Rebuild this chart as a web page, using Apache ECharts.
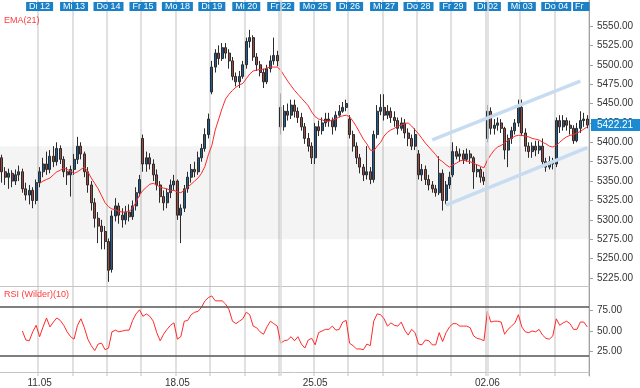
<!DOCTYPE html>
<html><head><meta charset="utf-8">
<script src="https://cdn.jsdelivr.net/npm/echarts@6/dist/echarts.min.js"></script>
<style>html,body{margin:0;padding:0;background:#fff}#c{width:640px;height:388px}</style>
</head><body><div id="c"></div>
<script>
// ---- data ----
const dayLabels = ['Mo 11','Di 12','Mi 13','Do 14','Fr 15','Mo 18','Di 19','Mi 20','Fr 22','Mo 25','Di 26','Mi 27','Do 28','Fr 29','Di 02','Mi 03','Do 04'];
const dayBarCounts = [11,10,10,10,10,10,10,10,10,10,10,10,10,10,10,10,10];
const gapDays = ['Fr 22','Di 02'];
const weekTickDays = ['Di 12','Mo 18','Mo 25','Di 02'];
const weekTickLabels = ['11.05','18.05','25.05','02.06'];

const opens = [
5380,5362,5355,5360,5350,5358,5362,5340,5332,5338,5325,
5348,5362,5372,5365,5382,5375,5392,5378,5362,5358,
5365,5378,5395,5385,5362,5345,5322,5302,5292,5285,
5272,5236,5305,5318,5306,5300,5310,5304,5318,5335,
5405,5372,5380,5372,5358,5345,5330,5322,5335,5345,
5350,5306,5315,5340,5355,5365,5362,5380,5392,5410,
5465,5497,5515,5508,5522,5515,5505,5485,5478,5485,
5500,5530,5535,5510,5500,5490,5478,5495,5505,5512,
5445,5420,5440,5435,5448,5440,5432,5420,5405,5395,
5380,5420,5415,5425,5430,5428,5420,5435,5440,5445,
5430,5410,5395,5380,5368,5358,5362,5352,5410,5440,
5445,5435,5440,5432,5428,5418,5425,5412,5405,5395,
5385,5358,5365,5352,5345,5340,5335,5360,5325,5345,
5358,5388,5382,5385,5378,5385,5380,5362,5365,5355,
5405,5440,5418,5422,5425,5418,5390,5405,5415,5425,
5445,5412,5395,5388,5395,5390,5395,5375,5368,5375,
5372,5428,5420,5428,5422,5418,5402,5418,5428,5430];
const closes = [
5362,5355,5360,5350,5358,5362,5340,5332,5338,5325,5348,
5362,5372,5365,5382,5375,5392,5378,5362,5358,5365,
5378,5395,5385,5362,5345,5322,5302,5292,5285,5272,
5235,5305,5318,5306,5300,5310,5304,5318,5335,5352,
5372,5380,5372,5358,5345,5330,5322,5335,5345,5350,
5306,5315,5340,5355,5365,5362,5380,5392,5410,5430,
5497,5515,5508,5522,5515,5505,5485,5478,5485,5500,
5530,5535,5510,5500,5490,5478,5495,5505,5512,5505,
5420,5440,5435,5448,5440,5432,5420,5405,5395,5380,
5420,5415,5425,5430,5428,5420,5435,5440,5445,5450,
5410,5395,5380,5368,5358,5362,5352,5410,5440,5445,
5435,5440,5432,5428,5418,5425,5412,5405,5395,5410,
5358,5365,5352,5345,5340,5335,5360,5325,5345,5355,
5388,5382,5385,5378,5385,5380,5362,5365,5355,5350,
5440,5418,5422,5425,5418,5390,5405,5415,5425,5445,
5412,5395,5388,5395,5390,5395,5375,5368,5375,5372,
5428,5420,5428,5422,5418,5402,5418,5428,5430,5422.21];
const lows = [
5348,5345,5340,5342,5345,5350,5335,5325,5320,5315,5320,
5342,5355,5358,5360,5368,5370,5372,5355,5345,5330,
5358,5372,5378,5355,5335,5312,5290,5270,5262,5262,
5220,5232,5298,5295,5290,5294,5298,5300,5312,5330,
5362,5362,5365,5350,5338,5322,5312,5315,5328,5338,
5300,5270,5310,5335,5348,5355,5358,5375,5388,5405,
5462,5490,5500,5505,5508,5495,5480,5472,5470,5482,
5495,5522,5505,5492,5485,5470,5475,5490,5500,5498,
5410,5415,5428,5430,5432,5425,5415,5398,5388,5372,
5372,5408,5410,5420,5420,5410,5415,5432,5438,5440,
5405,5388,5372,5360,5350,5352,5346,5348,5405,5435,
5428,5430,5425,5420,5410,5415,5405,5395,5390,5390,
5352,5350,5345,5338,5335,5330,5332,5312,5320,5340,
5355,5378,5375,5372,5375,5372,5340,5355,5348,5345,
5400,5410,5410,5415,5412,5378,5368,5398,5410,5420,
5408,5388,5380,5380,5382,5385,5370,5362,5365,5365,
5368,5412,5415,5415,5410,5398,5400,5412,5420,5418];
const highs = [
5384,5368,5366,5364,5365,5370,5366,5348,5345,5342,5352,
5368,5380,5388,5390,5395,5400,5396,5382,5368,5370,
5385,5407,5400,5388,5368,5350,5328,5310,5300,5292,
5276,5312,5328,5322,5315,5318,5320,5325,5342,5358,
5410,5388,5386,5378,5365,5350,5338,5340,5352,5358,
5352,5320,5345,5362,5372,5375,5388,5398,5418,5437,
5505,5520,5525,5528,5528,5520,5510,5490,5492,5505,
5535,5545,5538,5515,5505,5495,5500,5512,5535,5518,
5463,5448,5450,5455,5455,5445,5438,5425,5412,5400,
5425,5428,5432,5438,5438,5432,5440,5448,5452,5455,
5435,5415,5400,5385,5372,5395,5368,5415,5448,5462,
5462,5448,5445,5440,5432,5432,5430,5418,5410,5418,
5390,5372,5370,5358,5350,5345,5382,5365,5350,5362,
5400,5395,5392,5390,5392,5390,5382,5372,5368,5362,
5448,5445,5430,5432,5430,5420,5410,5420,5430,5455,
5455,5418,5400,5400,5402,5402,5405,5380,5382,5380,
5432,5435,5435,5432,5428,5422,5425,5440,5438,5435];
const ema21 = [
null,null,null,null,null,null,null,null,null,null,null,
5347,5350,5352,5354,5358,5362,5364,5367,5365,5363,
5360,5362,5365,5368,5362,5354,5347,5340,5331,5322,
5317,5314,5313,5311,5310,5310,5311,5315,5323,5332,
5338,5342,5346,5347,5345,5342,5341,5340,5338,5338,
5336,5335,5338,5342,5346,5350,5354,5360,5369,5384,
5396,5416,5430,5444,5456,5462,5467,5471,5474,5476,
5482,5488,5492,5493,5494,5494,5496,5497,5497,5497,
5493,5486,5479,5473,5467,5462,5457,5452,5447,5439,
5433,5430,5429,5427,5427,5429,5430,5433,5434,5435,
5433,5427,5420,5412,5404,5398,5390,5389,5395,5400,
5408,5413,5416,5418,5421,5422,5424,5425,5421,5416,
5411,5405,5399,5394,5389,5384,5378,5375,5371,5368,
5371,5373,5376,5377,5376,5375,5373,5371,5369,5367,
5377,5384,5390,5394,5396,5399,5403,5405,5408,5409,
5409,5408,5407,5405,5404,5403,5400,5398,5395,5394,
5396,5400,5404,5407,5409,5410,5412,5414,5417,5420];
const rsi10 = [
null,null,null,null,null,null,50,39,38,49,57,
43,55,66,55,61,66,63,57,49,43,
40,57,65,54,40,32,26,34,35,27,
29,49,51,49,50,51,51,63,71,76,
68,71,68,62,48,38,46,52,57,60,
40,43,62,63,70,73,74,79,87,91,
93,87,87,87,83,76,62,59,62,65,
73,70,56,54,49,46,55,62,59,56,
35,38,39,43,38,43,34,29,39,41,
33,48,50,52,52,56,51,52,61,63,
35,32,28,28,27,34,32,62,71,70,
65,56,60,57,56,61,51,45,52,48,
34,33,39,38,33,33,48,37,48,55,
59,59,56,56,56,54,44,41,40,38,
74,61,62,62,61,46,52,56,60,70,
55,49,48,50,49,52,45,41,40,44,
65,57,60,62,59,52,52,61,61,55];

const priceTicks = [5225,5250,5275,5300,5325,5350,5375,5400,5425,5450,5475,5500,5525,5550];
const rsiTicks = [25,50,75];
const rsiBands = [20,80];
const rangeBand = [5275,5395];
const channelUpper = [[125,5403],[168,5479]];
const channelLower = [[129,5319],[170,5393]];
const lastPrice = 5422.21;

// ---- build ----
const cats = [];
const dayStart = new Set();
const weekStart = {};
const gapIdx = [];
dayLabels.forEach((d, di) => {
  for (let k = 0; k < dayBarCounts[di]; k++) {
    if (k === 0 && cats.length > 0) dayStart.add(cats.length);
    if (k === 0) {
      const w = weekTickDays.indexOf(d);
      if (w >= 0) weekStart[cats.length] = weekTickLabels[w];
      if (gapDays.indexOf(d) >= 0) gapIdx.push(cats.length);
    }
    cats.push(d + '|' + k);
  }
});
const candles = opens.map((o, i) => [o, closes[i], lows[i], highs[i]]);

const FONT = 'Liberation Sans, Arial, sans-serif';
const BLUE = '#1b80c6';
const splitCol = '#d6d6d6';
const gapLine = (xi, yi) => ({
  type: 'line', xAxisIndex: xi, yAxisIndex: yi, data: [], z: 1, silent: true,
  markLine: {silent: true, symbol: ['none', 'none'], label: {show: false},
    lineStyle: {color: '#dadada', width: 1.5, type: 'solid'},
    data: gapIdx.map(i => ({xAxis: i}))}
});

const chart = echarts.init(document.getElementById('c'), null, {renderer: 'canvas'});
chart.setOption({
  animation: false,
  backgroundColor: '#fff',
  textStyle: {fontFamily: FONT},
  legend: [
    {data: ['EMA(21)'], left: -1, top: 16, padding: 0, itemWidth: 0, itemHeight: 10, icon: 'none', selectedMode: false,
     textStyle: {color: '#ff3b3b', fontSize: 9, fontFamily: FONT}},
    {data: ['RSI (Wilder)(10)'], left: -1, top: 290, padding: 0, itemWidth: 0, itemHeight: 10, icon: 'none', selectedMode: false,
     textStyle: {color: '#ff3b3b', fontSize: 9, fontFamily: FONT}}
  ],
  grid: [
    {left: 0, right: 51, top: 0, height: 286},
    {left: 0, right: 51, top: 286, height: 91}
  ],
  xAxis: [
    {gridIndex: 0, type: 'category', data: cats, position: 'top', boundaryGap: true,
     axisLine: {show: false}, axisTick: {show: false},
     axisLabel: {inside: true, margin: 2, interval: (i) => dayStart.has(i),
       formatter: (v) => v.split('|')[0], color: '#fff', backgroundColor: BLUE,
       fontSize: 9, lineHeight: 9, padding: [0, 3, 0, 3], fontFamily: FONT},
     splitLine: {show: true, interval: (i) => dayStart.has(i), lineStyle: {color: splitCol, width: 1.5}}},
    {gridIndex: 0, type: 'category', data: cats, position: 'bottom', boundaryGap: true,
     axisLine: {show: true, lineStyle: {color: '#c4c4c4', width: 1}}, axisTick: {show: false},
     axisLabel: {show: false}, splitLine: {show: false}},
    {gridIndex: 1, type: 'category', data: cats, position: 'bottom', boundaryGap: true,
     axisLine: {show: true, lineStyle: {color: '#c4c4c4', width: 1}}, axisTick: {show: false},
     axisLabel: {margin: 2, interval: (i) => weekStart[i] !== undefined,
       formatter: (v, i) => weekStart[i] || '', color: '#333', fontSize: 10, fontFamily: FONT},
     splitLine: {show: true, interval: (i) => dayStart.has(i), lineStyle: {color: splitCol, width: 1.5}}}
  ],
  yAxis: [
    {gridIndex: 0, type: 'value', position: 'right', min: 5214.7, max: 5583.5, scale: true,
     splitLine: {show: false},
     axisLine: {show: true, lineStyle: {color: '#a0a0a0'}},
     axisTick: {show: true, length: 4, customValues: priceTicks, lineStyle: {color: '#a0a0a0'}},
     axisLabel: {customValues: priceTicks, formatter: (v) => v.toFixed(2), color: '#333', fontSize: 10, margin: 8, fontFamily: FONT}},
    {gridIndex: 1, type: 'value', position: 'right', min: -5.2, max: 105.2,
     splitLine: {show: false},
     axisLine: {show: true, lineStyle: {color: '#a0a0a0'}},
     axisTick: {show: true, length: 4, customValues: rsiTicks, lineStyle: {color: '#a0a0a0'}},
     axisLabel: {customValues: rsiTicks, formatter: (v) => v.toFixed(2), color: '#333', fontSize: 10, margin: 8, fontFamily: FONT}}
  ],
  series: [
    gapLine(0, 0),
    gapLine(2, 1),
    {name: 'Kurs', type: 'candlestick', xAxisIndex: 0, yAxisIndex: 0, data: candles, barWidth: '72%',
     itemStyle: {color: '#1f5f98', color0: '#9c4a42', borderColor: '#2b2b2b', borderColor0: '#2b2b2b', borderWidth: 1},
     markArea: {silent: true, itemStyle: {color: 'rgba(0,0,0,0.045)'},
       data: [[{yAxis: rangeBand[0]}, {yAxis: rangeBand[1]}]]},
     markLine: {silent: true, symbol: ['none', 'none'], animation: false,
       data: [
         [{coord: channelUpper[0], lineStyle: {color: '#c7dcf0', width: 3.5, type: 'solid'}, label: {show: false}}, {coord: channelUpper[1]}],
         [{coord: channelLower[0], lineStyle: {color: '#c7dcf0', width: 3.5, type: 'solid'}, label: {show: false}}, {coord: channelLower[1]}]
       ]}},
    {name: 'EMA(21)', type: 'line', xAxisIndex: 0, yAxisIndex: 0, data: ema21, showSymbol: false, z: 4,
     lineStyle: {color: '#ff2a2a', width: 1}, itemStyle: {color: '#ff2a2a'},
     markLine: {silent: true, symbol: ['none', 'none'], animation: false, z: 10,
       data: [{yAxis: lastPrice, lineStyle: {color: 'rgba(0,0,0,0)', width: 0},
          label: {show: true, position: 'end', distance: 2, formatter: lastPrice.toFixed(2), color: '#fff',
            backgroundColor: '#1a8ad2', padding: [1, 8, 1, 6], fontSize: 10, lineHeight: 10, fontFamily: FONT}}]}},
    {name: 'RSI (Wilder)(10)', type: 'line', xAxisIndex: 2, yAxisIndex: 1, data: rsi10, showSymbol: false,
     lineStyle: {color: '#ff2a2a', width: 1}, itemStyle: {color: '#ff2a2a'},
     markLine: {silent: true, symbol: ['none', 'none'], label: {show: false},
       lineStyle: {color: '#555', width: 1.5, type: 'solid'},
       data: rsiBands.map(v => ({yAxis: v}))}}
  ],
  graphic: [
    {type: 'text', left: 573, top: 2, z: 10,
     style: {text: 'Fr', fill: '#fff', backgroundColor: BLUE, padding: [0, 6, 0, 2], font: '9px ' + FONT, lineHeight: 9}}
  ]
});
</script></body></html>
